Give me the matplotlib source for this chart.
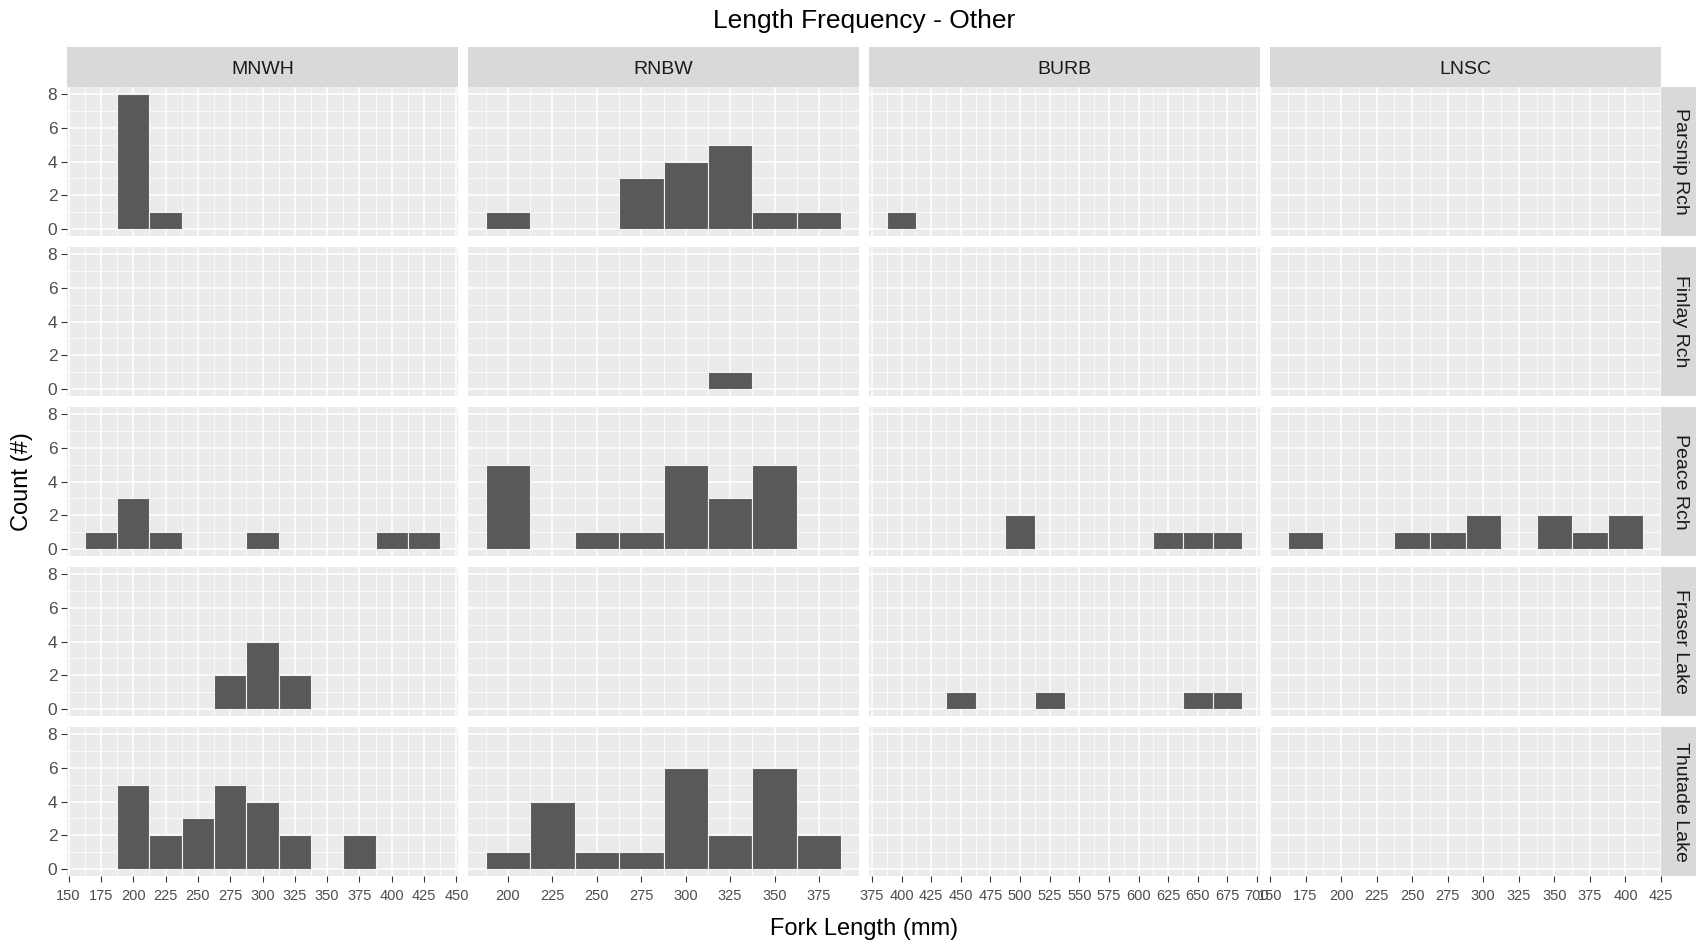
import matplotlib
matplotlib.use('Agg')
import matplotlib.pyplot as plt
from matplotlib.ticker import MultipleLocator
import numpy as np

plt.rcParams['font.family'] = ['Liberation Sans', 'DejaVu Sans']

species = ['MNWH', 'RNBW', 'BURB', 'LNSC']
reaches = ['Parsnip Rch', 'Finlay Rch', 'Peace Rch', 'Fraser Lake', 'Thutade Lake']
binwidth = 25

# bin centres (mm) and counts per reach (rows follow `reaches`)
mnwh_bins = [175, 200, 225, 250, 275, 300, 325, 350, 375, 400, 425]
mnwh_counts = [
    [0, 8, 1, 0, 0, 0, 0, 0, 0, 0, 0],
    [0, 0, 0, 0, 0, 0, 0, 0, 0, 0, 0],
    [1, 3, 1, 0, 0, 1, 0, 0, 0, 1, 1],
    [0, 0, 0, 0, 2, 4, 2, 0, 0, 0, 0],
    [0, 5, 2, 3, 5, 4, 2, 0, 2, 0, 0],
]

rnbw_bins = [200, 225, 250, 275, 300, 325, 350, 375]
rnbw_counts = [
    [1, 0, 0, 3, 4, 5, 1, 1],
    [0, 0, 0, 0, 0, 1, 0, 0],
    [5, 0, 1, 1, 5, 3, 5, 0],
    [0, 0, 0, 0, 0, 0, 0, 0],
    [1, 4, 1, 1, 6, 2, 6, 2],
]

burb_bins = [400, 425, 450, 475, 500, 525, 550, 575, 600, 625, 650, 675]
burb_counts = [
    [1, 0, 0, 0, 0, 0, 0, 0, 0, 0, 0, 0],
    [0, 0, 0, 0, 0, 0, 0, 0, 0, 0, 0, 0],
    [0, 0, 0, 0, 2, 0, 0, 0, 0, 1, 1, 1],
    [0, 0, 1, 0, 0, 1, 0, 0, 0, 0, 1, 1],
    [0, 0, 0, 0, 0, 0, 0, 0, 0, 0, 0, 0],
]

lnsc_bins = [175, 200, 225, 250, 275, 300, 325, 350, 375, 400]
lnsc_counts = [
    [0, 0, 0, 0, 0, 0, 0, 0, 0, 0],
    [0, 0, 0, 0, 0, 0, 0, 0, 0, 0],
    [1, 0, 0, 1, 1, 2, 0, 2, 1, 2],
    [0, 0, 0, 0, 0, 0, 0, 0, 0, 0],
    [0, 0, 0, 0, 0, 0, 0, 0, 0, 0],
]

all_bins = [mnwh_bins, rnbw_bins, burb_bins, lnsc_bins]
all_counts = [mnwh_counts, rnbw_counts, burb_counts, lnsc_counts]

W, H = 1696, 944
fig = plt.figure(figsize=(W / 100, H / 100), dpi=100)

# layout in pixels
left0, col_step, pw = 67, 401, 391
top0, row_step, ph = 87, 160, 149
strip_h = 40
strip_w = 35


def rect(x, y, w, h):
    return [x / W, 1 - (y + h) / H, w / W, h / H]


def strip(x, y, w, h, text, rot):
    sa = fig.add_axes(rect(x, y, w, h))
    sa.set_facecolor('#D9D9D9')
    sa.set_xticks([])
    sa.set_yticks([])
    for s in sa.spines.values():
        s.set_visible(False)
    # caps sit a bit high with va=center, nudge toward the middle
    if rot == 0:
        tx, ty = 0.5, 0.44
    else:
        tx, ty = 0.56, 0.5
    sa.text(tx, ty, text, ha='center', va='center', rotation=rot,
            fontsize=14, color='#1A1A1A', transform=sa.transAxes)


for j, sp in enumerate(species):
    bins = np.array(all_bins[j])
    lo = bins.min() - binwidth / 2
    hi = bins.max() + binwidth / 2
    pad = 0.05 * (hi - lo)
    x = left0 + j * col_step
    strip(x, top0 - strip_h, pw, strip_h, sp, 0)

    for i, reach in enumerate(reaches):
        y = top0 + i * row_step
        ax = fig.add_axes(rect(x, y, pw, ph))
        ax.set_facecolor('#EBEBEB')
        counts = np.array(all_counts[j][i])
        m = counts > 0
        ax.bar(bins[m], counts[m], width=binwidth, color='#595959',
               edgecolor='#F2F2F2', linewidth=0.8, zorder=3)

        ax.set_xlim(lo - pad, hi + pad)
        ax.set_ylim(-0.4, 8.4)
        ax.xaxis.set_major_locator(MultipleLocator(25))
        ax.xaxis.set_minor_locator(MultipleLocator(12.5))
        ax.yaxis.set_major_locator(MultipleLocator(2))
        ax.yaxis.set_minor_locator(MultipleLocator(1))
        ax.grid(which='major', color='white', linewidth=1.1, zorder=1)
        ax.grid(which='minor', color='white', linewidth=0.55, zorder=1)
        ax.set_axisbelow(True)
        for s in ax.spines.values():
            s.set_visible(False)

        ax.tick_params(which='minor', length=0)
        ax.tick_params(which='major', length=4, width=0.8, color='#333333',
                       labelcolor='#4D4D4D')
        ax.tick_params(axis='x', labelsize=10.5, pad=5)
        ax.tick_params(axis='y', labelsize=12.5, pad=3)
        if i < len(reaches) - 1:
            ax.tick_params(axis='x', which='major', length=0, labelbottom=False)
        if j > 0:
            ax.tick_params(axis='y', which='major', length=0, labelleft=False)

        if j == len(species) - 1:
            strip(x + pw, y, strip_w, ph, reach, -90)

cx = (left0 + 3 * col_step + pw + left0) / 2
fig.text(cx / W, 1 - 21 / H, 'Length Frequency - Other', ha='center', va='center',
         fontsize=19, color='black')
fig.text(cx / W, 1 - 929 / H, 'Fork Length (mm)', ha='center', va='center',
         fontsize=17, color='black')
fig.text(22 / W, 1 - (top0 + (4 * row_step + ph) / 2) / H, 'Count (#)', ha='center',
         va='center', rotation=90, fontsize=17, color='black')

fig.savefig('out.png', dpi=100)
